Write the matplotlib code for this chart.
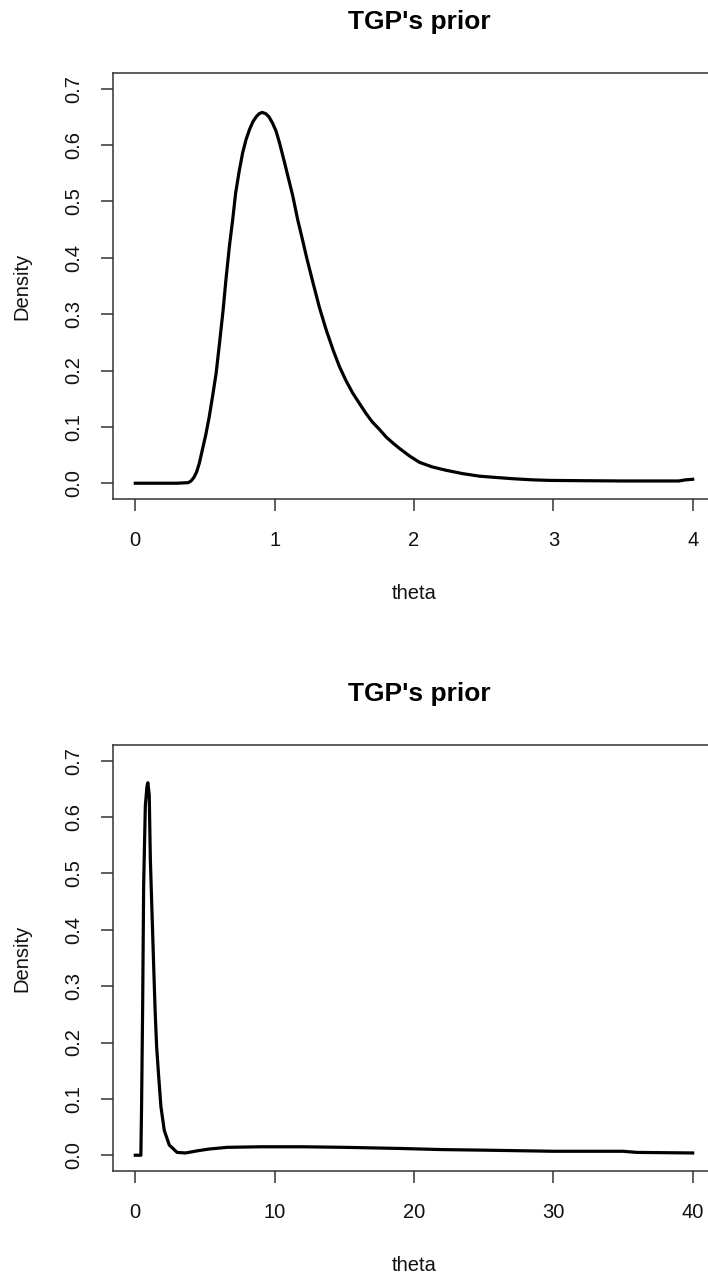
import matplotlib
matplotlib.use("Agg")
import matplotlib.pyplot as plt

plt.rcParams['font.family'] = ['Liberation Sans', 'DejaVu Sans']

# ---- data ----
# top panel: theta in [0, 4]
theta_top = [0.0, 0.1, 0.2, 0.3, 0.38, 0.40, 0.42, 0.44, 0.46, 0.48, 0.505, 0.53, 0.555,
             0.58, 0.605, 0.63, 0.65, 0.675, 0.70, 0.72, 0.745, 0.77, 0.795, 0.82, 0.845,
             0.87, 0.89, 0.91, 0.935, 0.96, 0.985, 1.01, 1.035, 1.07, 1.10, 1.13, 1.165,
             1.20, 1.23, 1.275, 1.32, 1.37, 1.42, 1.465, 1.51, 1.56, 1.61, 1.655, 1.70,
             1.75, 1.80, 1.85, 1.90, 1.97, 2.04, 2.13, 2.23, 2.35, 2.47, 2.6, 2.71, 2.85,
             2.97, 3.2, 3.5, 3.9, 3.95, 4.0]
dens_top = [0.0, 0.0, 0.0, 0.0, 0.001, 0.004, 0.010, 0.020, 0.036, 0.058, 0.085, 0.117, 0.155,
            0.195, 0.250, 0.307, 0.360, 0.420, 0.470, 0.515, 0.553, 0.586, 0.610, 0.628, 0.642,
            0.651, 0.656, 0.658, 0.656, 0.650, 0.639, 0.625, 0.604, 0.570, 0.540, 0.510, 0.468,
            0.432, 0.400, 0.356, 0.313, 0.272, 0.236, 0.207, 0.183, 0.160, 0.141, 0.124, 0.109,
            0.096, 0.082, 0.071, 0.061, 0.048, 0.037, 0.029, 0.023, 0.017, 0.0125, 0.010, 0.008, 0.006,
            0.005, 0.0045, 0.004, 0.004, 0.006, 0.007]

# bottom panel: theta in [0, 40]
theta_bot = [0.0, 0.4, 0.45, 0.53, 0.6, 0.72, 0.84, 0.9, 1.0, 1.08, 1.2, 1.32, 1.42,
             1.53, 1.68, 1.84, 2.08, 2.44, 3.0, 3.6, 4.5, 5.3, 6.6, 9.0, 12.0, 15.0,
             19.0, 22.0, 25.0, 30.0, 35.0, 36.0, 40.0]
dens_bot = [0.0, 0.0, 0.086, 0.27, 0.48, 0.62, 0.655, 0.661, 0.640, 0.525, 0.43, 0.335, 0.258,
            0.193, 0.139, 0.086, 0.044, 0.018, 0.005, 0.004, 0.008, 0.011, 0.014, 0.015, 0.015, 0.014,
            0.012, 0.010, 0.009, 0.007, 0.007, 0.005, 0.004]

x_ticks_top = [0, 1, 2, 3, 4]
x_ticks_bot = [0, 10, 20, 30, 40]
y_ticks = [0.0, 0.1, 0.2, 0.3, 0.4, 0.5, 0.6, 0.7]
y_ticklabels = ["0.0", "0.1", "0.2", "0.3", "0.4", "0.5", "0.6", "0.7"]
title_text = "TGP's prior"
xlabel_text = "theta"
ylabel_text = "Density"

W, H = 708, 1281
fig = plt.figure(figsize=(W / 100, H / 100), dpi=100)


def px_axes(l, t, r, b):
    return fig.add_axes([l / W, 1 - b / H, (r - l) / W, (b - t) / H])


AXC = '#333333'
TICKLEN = 8.6


def style(ax, xt, xlim):
    ax.set_xlim(*xlim)
    ax.set_ylim(-0.028, 0.728)
    ax.set_xticks(xt)
    ax.set_xticklabels([str(v) for v in xt])
    ax.set_yticks(y_ticks)
    ax.set_yticklabels(y_ticklabels)
    for s in ax.spines.values():
        s.set_color(AXC)
        s.set_linewidth(1.1)
    ax.tick_params(axis='both', direction='out', length=TICKLEN, width=1.1,
                   color=AXC, labelsize=14.5, labelcolor='#111111')
    ax.tick_params(axis='x', pad=21.5)
    ax.tick_params(axis='y', pad=19.5)
    for lbl in ax.get_xticklabels():
        lbl.set_va('center')
    for lbl in ax.get_yticklabels():
        lbl.set_rotation(90)
        lbl.set_ha('center')
        lbl.set_va('center')
    t = ax.set_title(title_text, fontsize=19, fontweight='bold', pad=31.5)
    t.set_x(0.508)
    ax.set_xlabel(xlabel_text, fontsize=14.5, color='#111111')
    ax.set_ylabel(ylabel_text, fontsize=14.5, color='#111111')
    ax.xaxis.set_label_coords(0.5, -0.2207)
    ax.xaxis.label.set_va('center')
    ax.yaxis.set_label_coords(-0.151, 0.5)
    ax.yaxis.label.set_va('center')


ax1 = px_axes(113, 73, 715, 499)
ax1.plot(theta_top, dens_top, color='black', lw=2.3, solid_joinstyle='round')
style(ax1, x_ticks_top, (-0.16, 4.16))

ax2 = px_axes(113, 745, 715, 1171)
ax2.plot(theta_bot, dens_bot, color='black', lw=2.3, solid_joinstyle='round')
style(ax2, x_ticks_bot, (-1.6, 41.6))

fig.savefig("out.png", dpi=100)
